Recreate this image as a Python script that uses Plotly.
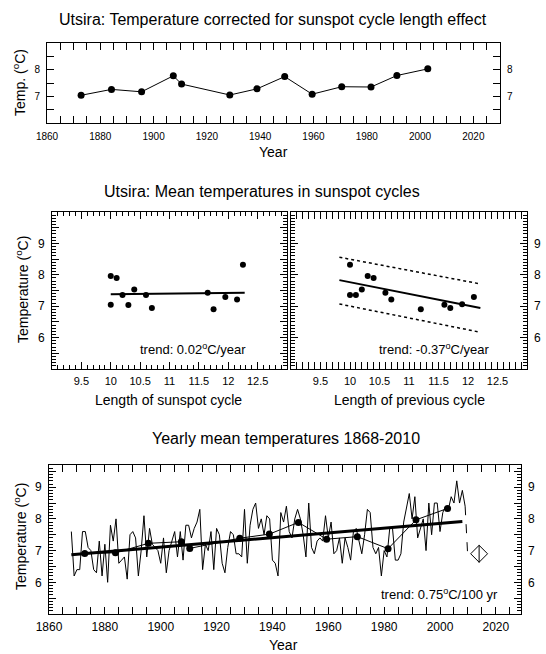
import plotly.graph_objects as go

W, H = 546, 654
FONT = "Liberation Sans, Arial, sans-serif"

# --- top panel: temperature corrected for cycle length ---
cycle_year = [1872.8, 1884.2, 1895.5, 1907.4, 1910.5, 1928.6, 1938.8,
              1949.2, 1959.5, 1970.6, 1981.6, 1991.3, 2002.9]
corrected_temp = [7.04, 7.26, 7.17, 7.77, 7.46, 7.05, 7.28,
                  7.74, 7.08, 7.36, 7.35, 7.78, 8.03]

# --- middle panels: cycle mean temperature vs cycle lengths ---
cycle_len = [10.0, 10.1, 10.0, 10.2, 10.3, 10.4, 10.6, 10.7,
             11.65, 11.75, 11.95, 12.15, 12.25]
cycle_temp = [7.96, 7.90, 7.05, 7.36, 7.04, 7.53, 7.36, 6.94,
              7.43, 6.90, 7.29, 7.21, 8.32]
trend_len_x = [10.0, 12.28]
trend_len_y = [7.38, 7.43]

prev_len = [10.0, 10.0, 10.1, 10.2, 10.3, 10.4, 10.6, 10.7,
            11.2, 11.6, 11.7, 11.9, 12.1]
prev_temp = [8.32, 7.36, 7.36, 7.53, 7.96, 7.90, 7.43, 7.21,
             6.90, 7.05, 6.94, 7.06, 7.29]
trend_prev_x = [9.82, 12.21]
trend_prev_y = [7.83, 6.94]
band_upper_y = [8.56, 7.71]
band_lower_y = [7.07, 6.17]

# --- bottom panel: yearly means 1868-2009 ---
years = list(range(1868, 2010))
yearly_temp = [
    7.6, 6.2, 6.4, 6.4, 7.6, 7.6, 7.1, 7.0, 6.4, 6.3,
    7.3, 6.2, 7.2, 6.0, 7.8, 7.3, 8.0, 6.6, 6.7, 6.8,
    6.1, 7.5, 7.6, 7.4, 6.2, 7.0, 8.1, 6.8, 7.7, 7.2,
    7.1, 7.0, 6.6, 7.4, 6.3, 7.0, 7.3, 7.6, 6.8, 7.6,
    6.7, 7.8, 7.8, 7.4, 7.7, 7.9, 8.3, 6.4, 7.2, 7.0,
    7.6, 6.4, 7.7, 7.5, 6.6, 6.3, 7.1, 7.6, 7.5, 6.9,
    6.9, 6.8, 8.3, 6.6, 7.8, 8.3, 8.5, 7.7, 8.0, 7.5,
    8.1, 8.0,
    6.7, 6.6, 6.2, 8.2, 7.9, 8.4, 7.6, 7.4, 8.0, 8.3,
    8.0, 7.5, 6.8, 8.5, 7.1, 6.9, 7.3, 7.4, 7.3, 8.1,
    7.4, 7.9, 6.9, 7.0, 7.4, 6.6, 7.4, 7.1, 6.7, 7.6,
    7.7, 7.3, 6.9, 7.5, 8.3, 8.2, 7.1, 6.9, 7.1, 6.2,
    7.0, 6.8, 7.7, 7.7, 6.7, 6.7, 6.9, 7.9, 8.4, 8.8,
    8.0, 8.7, 7.4, 7.7, 8.0, 7.0, 8.5, 7.5, 8.5, 8.5,
    7.6, 8.2, 8.4, 8.3, 8.7, 8.5, 9.2, 8.5, 8.9, 8.4,
]
last_x = [2009, 2010]
last_y = [8.4, 6.7]

cycle_mid = [1872.8, 1883.8, 1895.6, 1907.4, 1910.4, 1928.3, 1938.9,
             1949.3, 1959.4, 1970.4, 1981.4, 1991.4, 2002.7]
cycle_mean = [6.91, 6.93, 7.23, 7.28, 7.07, 7.39, 7.52,
              7.89, 7.36, 7.44, 7.06, 7.97, 8.33]
trend_x = [1868, 2008]
trend_y = [6.87, 7.92]
pred_x = [2014]
pred_y = [6.9]
pred_err = [0.28]


def px(x):
    return x / W


def py(y):
    return 1 - y / H


fig = go.Figure()
blk = "black"

# top
fig.add_trace(go.Scatter(x=cycle_year, y=corrected_temp, mode="lines+markers",
                         line=dict(color=blk, width=1), marker=dict(color=blk, size=7),
                         xaxis="x", yaxis="y"))

# middle left
fig.add_trace(go.Scatter(x=cycle_len, y=cycle_temp, mode="markers",
                         marker=dict(color=blk, size=6), xaxis="x2", yaxis="y2"))
fig.add_trace(go.Scatter(x=trend_len_x, y=trend_len_y, mode="lines",
                         line=dict(color=blk, width=2), xaxis="x2", yaxis="y2"))

# middle right
fig.add_trace(go.Scatter(x=prev_len, y=prev_temp, mode="markers",
                         marker=dict(color=blk, size=6), xaxis="x3", yaxis="y3"))
fig.add_trace(go.Scatter(x=trend_prev_x, y=trend_prev_y, mode="lines",
                         line=dict(color=blk, width=2), xaxis="x3", yaxis="y3"))
for band in (band_upper_y, band_lower_y):
    fig.add_trace(go.Scatter(x=trend_prev_x, y=band, mode="lines",
                             line=dict(color=blk, width=1.5, dash="dot"),
                             xaxis="x3", yaxis="y3"))

# bottom
fig.add_trace(go.Scatter(x=years, y=yearly_temp, mode="lines",
                         line=dict(color=blk, width=1), xaxis="x4", yaxis="y4"))
fig.add_trace(go.Scatter(x=last_x, y=last_y, mode="lines",
                         line=dict(color=blk, width=1, dash="dash"), xaxis="x4", yaxis="y4"))
fig.add_trace(go.Scatter(x=cycle_mid, y=cycle_mean, mode="lines+markers",
                         line=dict(color=blk, width=1), marker=dict(color=blk, size=7),
                         xaxis="x4", yaxis="y4"))
fig.add_trace(go.Scatter(x=trend_x, y=trend_y, mode="lines",
                         line=dict(color=blk, width=3), xaxis="x4", yaxis="y4"))
fig.add_trace(go.Scatter(x=pred_x, y=pred_y, mode="markers",
                         marker=dict(symbol="diamond-open", size=13, color=blk,
                                     line=dict(width=1, color=blk)),
                         error_y=dict(type="data", array=pred_err, width=0,
                                      color=blk, thickness=1),
                         xaxis="x4", yaxis="y4"))

# empty traces so the right-hand label axes are drawn
for ya, xa in (("y5", "x"), ("y6", "x3"), ("y7", "x4")):
    fig.add_trace(go.Scatter(x=[None], y=[None], xaxis=xa, yaxis=ya, showlegend=False))


def frame(size=12, **kw):
    d = dict(showline=True, linecolor=blk, linewidth=1, mirror="allticks",
             ticks="inside", ticklen=7, tickwidth=1, tickcolor=blk,
             showgrid=False, zeroline=False, fixedrange=True, automargin=False,
             tickfont=dict(size=size, color=blk, family=FONT))
    d.update(kw)
    return d


def right_labels(over, anchor, rng, vals, size=12):
    return dict(overlaying=over, anchor=anchor, side="right", range=rng,
                tickmode="array", tickvals=vals, ticks="", showline=False,
                showgrid=False, zeroline=False, automargin=False, ticklabelstandoff=6,
                tickfont=dict(size=size, color=blk, family=FONT))


def minor(step, start):
    return dict(ticks="inside", ticklen=4, tickcolor=blk, tickwidth=1,
                tickmode="linear", tick0=start, dtick=step, showgrid=False)


half_vals = [5.5, 6, 6.5, 7, 7.5, 8, 8.5, 9, 9.5]
half_text = ["", "6", "", "7", "", "8", "", "9", ""]
len_vals = [9.5, 10, 10.5, 11, 11.5, 12, 12.5]
len_text = ["9.5", "10", "10.5", "11", "11.5", "12", "12.5"]
year_vals = list(range(1860, 2021, 20))

fig.update_layout(
    width=W, height=H, margin=dict(l=0, r=0, t=0, b=0, autoexpand=False),
    paper_bgcolor="white", plot_bgcolor="white", showlegend=False,
    font=dict(family=FONT, color=blk),
    xaxis=frame(10, domain=[px(47), px(500)], range=[1860, 2030], anchor="y",
                tickmode="array", tickvals=year_vals, minor=minor(5, 1860),
                ticklabelstandoff=4),
    yaxis=frame(10, domain=[py(123), py(43)], range=[6, 9], anchor="x",
                tickmode="array", tickvals=[6.5, 7, 7.5, 8, 8.5],
                ticktext=["", "7", "", "8", ""], ticklabelstandoff=4),
    yaxis5=right_labels("y", "x", [6, 9], [7, 8], 10),
    xaxis2=frame(11, domain=[px(52), px(287)], range=[9, 13], anchor="y2",
                 tickmode="array", tickvals=len_vals, ticktext=len_text,
                 minor=minor(0.1, 9), ticklabelstandoff=2),
    yaxis2=frame(12, domain=[py(369), py(212)], range=[5, 10], anchor="x2",
                 tickmode="array", tickvals=half_vals, ticktext=half_text,
                 minor=minor(0.1, 5), ticklabelstandoff=4),
    xaxis3=frame(11, domain=[px(291), px(527)], range=[9, 13], anchor="y3",
                 tickmode="array", tickvals=len_vals, ticktext=len_text,
                 minor=minor(0.1, 9), ticklabelstandoff=2),
    yaxis3=frame(12, domain=[py(369), py(212)], range=[5, 10], anchor="x3",
                 tickmode="array", tickvals=half_vals, ticktext=half_text,
                 showticklabels=False, minor=minor(0.1, 5)),
    yaxis6=right_labels("y3", "x3", [5, 10], [6, 7, 8, 9]),
    xaxis4=frame(12, domain=[px(49), px(521)], range=[1860, 2029], anchor="y4",
                 tickmode="array", tickvals=year_vals, minor=minor(5, 1860),
                 ticklabelstandoff=2),
    yaxis4=frame(12, domain=[py(614), py(465)], range=[5, 9.7], anchor="x4",
                 tickmode="array", tickvals=half_vals, ticktext=half_text,
                 minor=minor(0.1, 5), ticklabelstandoff=4),
    yaxis7=right_labels("y4", "x4", [5, 9.7], [6, 7, 8, 9]),
)


def note(x, y, text, size=14, angle=0, xanchor="center"):
    fig.add_annotation(x=px(x), y=py(y), xref="paper", yref="paper", text=text,
                       showarrow=False, textangle=angle, xanchor=xanchor,
                       yanchor="middle", font=dict(size=size, color=blk, family=FONT))


note(273, 20, "Utsira: Temperature corrected for sunspot cycle length effect", 16)
note(19, 83, "Temp. (<sup>o</sup>C)", 14, -90)
note(273, 152, "Year", 14)

note(262, 191, "Utsira: Mean temperatures in sunspot cycles", 16)
note(22, 290, "Temperature (<sup>o</sup>C)", 14, -90)
note(168, 400, "Length of sunspot cycle", 14)
note(409, 400, "Length of previous cycle", 14)
note(248, 349, "trend: 0.02<sup>o</sup>C/year", 13, xanchor="right")
note(492, 349, "trend: -0.37<sup>o</sup>C/year", 13, xanchor="right")

note(286, 438, "Yearly mean temperatures 1868-2010", 16)
note(20, 537, "Temperature (<sup>o</sup>C)", 14, -90)
note(283, 645, "Year", 14)
note(500, 594, "trend: 0.75<sup>o</sup>C/100 yr", 13, xanchor="right")

fig.write_html("out.html", config={"displayModeBar": False},
               post_script="document.body.style.margin='0';")
